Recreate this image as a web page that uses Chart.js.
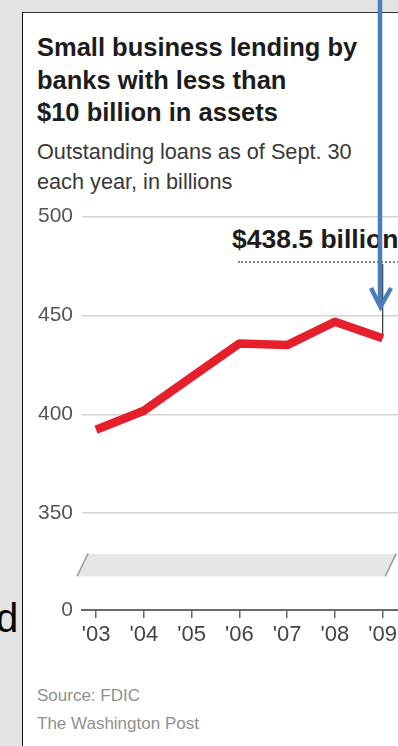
<!DOCTYPE html>
<html>
<head>
<meta charset="utf-8">
<script src="https://cdn.jsdelivr.net/npm/chart.js@4.4.1/dist/chart.umd.min.js"></script>
<style>
  html, body { margin: 0; padding: 0; }
  body {
    width: 398px; height: 746px; overflow: hidden; position: relative;
    background: #e3e3e3; font-family: "Liberation Sans", Arial, sans-serif;
  }
  .panel {
    position: absolute; left: 22px; top: 12px; width: 400px; height: 760px;
    background: #fff; border-left: 1.5px solid #111; border-top: 1.5px solid #333;
  }
  .abs { position: absolute; white-space: nowrap; }
  #title { left: 37px; top: 31px; font-size: 25.5px; line-height: 32.5px; font-weight: bold; color: #1c1c1c; }
  #sub { left: 37px; top: 137px; font-size: 21.7px; line-height: 30px; color: #383838; }
  #src { left: 37px; top: 682px; font-size: 17px; line-height: 28px; color: #909090; }
  #annot { left: 232px; top: 224px; font-size: 26.5px; line-height: 30px; font-weight: bold; color: #1c1c1c; }
  #annotLine { left: 238px; top: 261px; width: 200px; border-top: 2px dotted #8a8a8a; }
  #leftChar { left: -4px; top: 598px; font-size: 40px; line-height: 40px; color: #000; }
  #wrap { position: absolute; left: 22px; top: 195px; width: 379px; height: 460px; }
  #arrow { position: absolute; left: 0; top: 0; }
</style>
</head>
<body>
<div class="panel"></div>
<div class="abs" id="leftChar">d</div>
<div class="abs" id="title">Small business lending by<br>banks with less than<br>$10 billion in assets</div>
<div class="abs" id="sub">Outstanding loans as of Sept. 30<br>each year, in billions</div>
<div class="abs" id="annot">$438.5 billion</div>
<div class="abs" id="annotLine"></div>
<div id="wrap"><canvas id="chart"></canvas></div>
<div class="abs" id="src">Source: FDIC<br>The Washington Post</div>
<svg id="arrow" width="398" height="746">
  <line x1="380" y1="0" x2="380" y2="305" stroke="#4a7ebb" stroke-width="4.5"/>
  <polyline points="371,288 380.5,307 391,288" fill="none" stroke="#4a7ebb" stroke-width="4.5" stroke-linejoin="miter"/>
</svg>

<script>
// data
const years = ["'03", "'04", "'05", "'06", "'07", "'08", "'09"];
const loans = [392.2, 401.8, 418.9, 435.8, 435, 446.8, 438.5];
const yTickValues = [0, 350, 400, 450, 500];

// broken axis: the zero line sits where 301 would be
const yFloor = 301;
const yTop = 500;
const breakLow = 318;
const breakHigh = 329.5;
const annotLineValue = 476;

Chart.defaults.font.family = "'Liberation Sans', Arial, sans-serif";

const extras = {
  id: "extras",
  beforeDatasetsDraw(chart) {
    const { ctx, chartArea, scales } = chart;
    const y = scales.y;
    const top = y.getPixelForValue(breakHigh);
    const bot = y.getPixelForValue(breakLow);
    const l = chartArea.left, r = chartArea.right;
    ctx.save();
    ctx.fillStyle = "#e6e6e6";
    ctx.beginPath();
    ctx.moveTo(l - 5, bot);
    ctx.lineTo(l + 6, top);
    ctx.lineTo(r - 3, top);
    ctx.lineTo(r - 14, bot);
    ctx.closePath();
    ctx.fill();
    ctx.strokeStyle = "#9a9a9a";
    ctx.lineWidth = 1.5;
    ctx.beginPath();
    ctx.moveTo(l - 5, bot); ctx.lineTo(l + 6, top);
    ctx.moveTo(r - 14, bot); ctx.lineTo(r - 3, top);
    ctx.stroke();

    // connector from last point up to the annotation
    const pts = chart.getDatasetMeta(0).data;
    const last = pts[pts.length - 1];
    ctx.strokeStyle = "#333";
    ctx.lineWidth = 1.2;
    ctx.beginPath();
    ctx.moveTo(last.x, last.y);
    ctx.lineTo(last.x, y.getPixelForValue(annotLineValue));
    ctx.stroke();
    ctx.restore();
  },
};

new Chart(document.getElementById("chart"), {
  type: "line",
  data: {
    datasets: [
      {
        data: loans.map((v, i) => ({ x: i, y: v })),
        borderColor: "#e5202b",
        borderWidth: 8.5,
        borderJoinStyle: "round",
        pointRadius: 0,
        tension: 0,
        clip: false,
      },
    ],
  },
  options: {
    responsive: true,
    maintainAspectRatio: false,
    animation: false,
    layout: { padding: { top: 20, left: 0, right: 0, bottom: 0 } },
    plugins: { legend: { display: false }, tooltip: { enabled: false } },
    scales: {
      x: {
        type: "linear",
        min: -0.294,
        max: 6.347,
        afterBuildTicks: (s) => { s.ticks = years.map((_, i) => ({ value: i })); },
        afterFit: (s) => { s.height = 45; },
        grid: { drawOnChartArea: false, drawTicks: true, tickLength: 8, color: "#666", lineWidth: 1.5 },
        border: { display: true, color: "#6a6a6a", width: 2 },
        ticks: {
          autoSkip: false, maxRotation: 0, padding: 4,
          color: "#444", font: { size: 22 },
          callback: (v) => years[v],
        },
      },
      y: {
        min: yFloor,
        max: yTop,
        afterBuildTicks: (s) => {
          s.ticks = yTickValues.map((v) => ({ value: v === 0 ? yFloor : v }));
        },
        afterFit: (s) => { s.width = 60; },
        grid: { drawTicks: false, color: "#d4d4d4", lineWidth: 1.5 },
        border: { display: false },
        ticks: {
          padding: 9, color: "#555", font: { size: 21 },
          callback: (v) => (v === yFloor ? "0" : v),
        },
      },
    },
  },
  plugins: [extras],
});
</script>
</body>
</html>
